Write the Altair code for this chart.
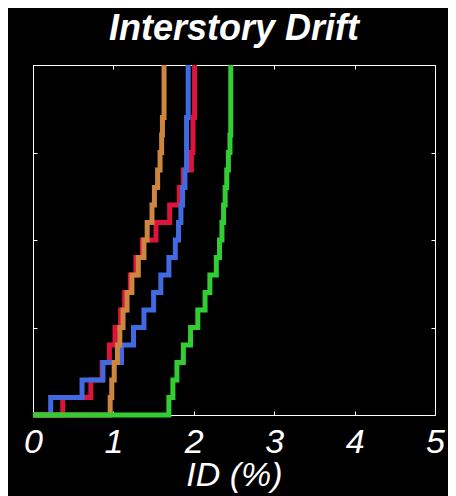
import altair as alt
import pandas as pd

# ECDF probability levels (20 records)
prob = [0.0, 0.05, 0.10, 0.15, 0.20, 0.25, 0.30, 0.35, 0.40, 0.45, 0.50,
        0.55, 0.60, 0.65, 0.70, 0.75, 0.80, 0.85, 0.90, 0.95, 1.0]

# sorted interstory drift values (%)
red = [0.0, 0.37, 0.72, 0.86, 0.95, 1.02, 1.09, 1.14, 1.21, 1.28, 1.36,
       1.53, 1.70, 1.82, 1.87, 1.97, 1.99, 1.99, 2.01, 2.01, 2.01]
blue = [0.0, 0.22, 0.61, 0.87, 1.10, 1.25, 1.38, 1.50, 1.59, 1.69, 1.77,
        1.81, 1.84, 1.86, 1.89, 1.91, 1.91, 1.91, 1.93, 1.93, 1.93]
orange = [0.0, 0.96, 0.98, 1.01, 1.05, 1.08, 1.12, 1.17, 1.23, 1.31, 1.38,
          1.42, 1.48, 1.51, 1.55, 1.58, 1.60, 1.61, 1.63, 1.63, 1.63]
green = [0.0, 1.69, 1.74, 1.79, 1.87, 1.96, 2.05, 2.14, 2.20, 2.28, 2.32,
         2.35, 2.37, 2.39, 2.41, 2.43, 2.45, 2.46, 2.46, 2.46, 2.46]

series = [("red", red, "#DC143C"), ("blue", blue, "#4169E1"),
          ("orange", orange, "#CD853F"), ("green", green, "#32CD32")]

x_ticks = [0, 1, 2, 3, 4, 5]
y_ticks = [0, 0.25, 0.5, 0.75, 1]

rows = []
for name, vals, _ in series:
    for i, (xv, yv) in enumerate(zip(vals, prob)):
        rows.append({"series": name, "x": xv, "y": yv, "i": i})
df = pd.DataFrame(rows)

FONT = "Liberation Sans"
xs = alt.Scale(domain=[0, 5], nice=False, zero=False)
ys = alt.Scale(domain=[0, 1], nice=False)

bottom_axis = alt.Axis(orient="bottom", values=x_ticks, format="d", grid=False,
                       domain=False, offset=-4, tickSize=4, tickColor="white", tickWidth=1,
                       labelFont=FONT, labelFontSize=34, labelFontStyle="italic",
                       labelColor="white", labelPadding=10, labelFlush=False,
                       title="ID (%)", titleFont=FONT, titleFontSize=34,
                       titleFontStyle="italic", titleFontWeight="normal",
                       titleColor="white", titleY=74, titleBaseline="alphabetic")
left_axis = alt.Axis(orient="left", values=y_ticks, grid=False, domain=False,
                     offset=-4, tickSize=4, tickColor="white", labels=False, title=None)
top_axis = alt.Axis(orient="top", values=x_ticks, grid=False, domain=False,
                    offset=-4, tickSize=4, tickColor="white", labels=False, title=None)
right_axis = alt.Axis(orient="right", values=y_ticks, grid=False, domain=False,
                      offset=-4, tickSize=4, tickColor="white", labels=False, title=None)

layers = []
frame = alt.Chart(df).mark_point(opacity=0).encode(
    x=alt.X("x:Q", scale=xs, axis=top_axis),
    y=alt.Y("y:Q", scale=ys, axis=right_axis),
)
layers.append(frame)
for j, (name, vals, col) in enumerate(series):
    layers.append(
        alt.Chart(df).transform_filter(alt.datum.series == name).mark_line(
            interpolate="step-after", strokeWidth=5, color=col, strokeJoin="miter",
            strokeCap="butt", clip=False
        ).encode(
            x=alt.X("x:Q", scale=xs, axis=bottom_axis if j == 0 else None),
            y=alt.Y("y:Q", scale=ys, axis=left_axis if j == 0 else None),
            order="i:Q",
        )
    )

chart = alt.layer(*layers).resolve_axis(x="independent", y="independent").properties(
    width=402, height=350,
    title=alt.TitleParams("Interstory Drift", font=FONT, fontSize=36, fontStyle="italic",
                          fontWeight="bold", color="white", anchor="middle", offset=7),
    padding={"left": 25, "top": 57, "right": 13, "bottom": 81},
    autosize=alt.AutoSizeParams(type="none"),
    background="black",
).configure_view(stroke="white", strokeWidth=1)

chart.save("out.html", embed_options={"renderer": "svg", "actions": False})
